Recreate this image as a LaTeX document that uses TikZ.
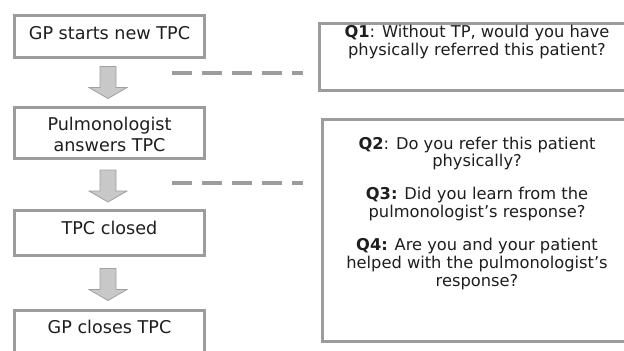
\documentclass[tikz,border=0pt]{standalone}
\usepackage{fontspec}
\setmainfont{DejaVu Sans}
\usetikzlibrary{calc}
\definecolor{brd}{HTML}{9C9C9C}
\definecolor{afill}{HTML}{C8C8C8}
\definecolor{aline}{HTML}{A0A0A0}
\definecolor{txt}{HTML}{1E1E1E}
\begin{document}
\begin{tikzpicture}[x=0.75pt,y=-0.75pt,
  box/.style={draw=brd,line width=2.5pt,fill=white,inner sep=0pt},
  ltxt/.style={font=\fontsize{13.2pt}{15.75pt}\selectfont,anchor=base,inner sep=0pt,text=txt},
  rtxt/.style={font=\fontsize{12.2pt}{13.3pt}\selectfont,anchor=base,inner sep=0pt,text=txt},
  blk/.style={fill=afill,draw=aline,line width=0.6pt},
  dsh/.style={draw=brd,line width=3pt,dash pattern=on 15pt off 7.5pt}]
\useasboundingbox (0,0) rectangle (624,350);
\clip (0,0) rectangle (624,350);
% left flow boxes
\node[box,minimum width=142.3pt,minimum height=31.3pt] (b1) at (109.5,36.5) {};
\node[box,minimum width=142.3pt,minimum height=38pt] (b2) at (109.5,133) {};
\node[box,minimum width=142.3pt,minimum height=33.5pt] (b3) at (109.5,233) {};
\node[box,minimum width=142.3pt,minimum height=50.8pt] (b4) at (109.5,344.5) {};
\node[ltxt] (t1) at (109.5,39) {GP starts new TPC};
\node[ltxt] (t2a) at (109.5,130) {Pulmonologist};
\node[ltxt] (t2b) at (109.5,151) {answers TPC};
\node[ltxt] (t3) at (109.5,234) {TPC closed};
\node[ltxt] (t4) at (109.5,333) {GP closes TPC};
% right question boxes
\node[box,minimum width=236pt,minimum height=50pt] (q1) at (477,57) {};
\node[box,minimum width=233.8pt,minimum height=166.3pt] (q2) at (478.5,230.5) {};
\node[rtxt] (tq1a) at (477,37.3) {\textbf{Q1}: Without TP, would you have};
\node[rtxt] (tq1b) at (477,55) {physically referred this patient?};
\node[rtxt] (tq2a) at (477,149) {\textbf{Q2}: Do you refer this patient};
\node[rtxt] (tq2b) at (477,166.7) {physically?};
\node[rtxt] (tq3a) at (477,199.3) {\textbf{Q3:} Did you learn from the};
\node[rtxt] (tq3b) at (477,217.3) {pulmonologist’s response?};
\node[rtxt] (tq4a) at (477,250.7) {\textbf{Q4:} Are you and your patient};
\node[rtxt] (tq4b) at (477,268.7) {helped with the pulmonologist’s};
\node[rtxt] (tq4c) at (477,286.3) {response?};
% block arrows between boxes
\coordinate (m1) at ($(b1.south)!0.5!(b2.north)+(-1.5,0)$);
\coordinate (m2) at ($(b2.south)!0.5!(b3.north)+(-1.5,1.5)$);
\coordinate (m3) at ($(b3.south)!0.5!(b4.north)+(-1.5,1.5)$);
\foreach \m in {m1,m2,m3}{
  \draw[blk] ($(\m)+(-8,-16)$) -- ($(\m)+(8,-16)$) -- ($(\m)+(8,5)$) -- ($(\m)+(19,5)$)
    -- ($(\m)+(0,16)$) -- ($(\m)+(-19,5)$) -- ($(\m)+(-8,5)$) -- cycle;
}
% dashed links
\coordinate (d1s) at (172,73);
\coordinate (d1e) at (303,73);
\coordinate (d2s) at (172,183);
\coordinate (d2e) at (303,183);
\draw[dsh] (d1s) -- (d1e);
\draw[dsh] (d2s) -- (d2e);
\end{tikzpicture}
\end{document}
